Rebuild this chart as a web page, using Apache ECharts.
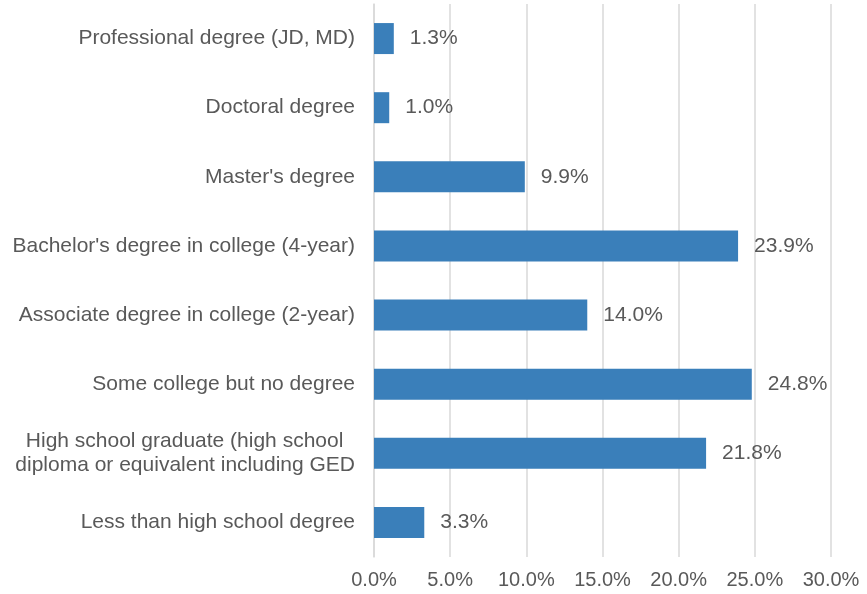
<!DOCTYPE html>
<html>
<head>
<meta charset="utf-8">
<script src="https://cdn.jsdelivr.net/npm/echarts@6/dist/echarts.min.js"></script>
<style>
  html, body { margin: 0; padding: 0; background: #fff; }
  #chart { width: 867px; height: 594px; }
</style>
</head>
<body>
<div id="chart"></div>
<script>
// categories top -> bottom
const categories = [
  'Professional degree (JD, MD)',
  'Doctoral degree',
  "Master's degree",
  "Bachelor's degree in college (4-year)",
  'Associate degree in college (2-year)',
  'Some college but no degree',
  'High school graduate (high school  \ndiploma or equivalent including GED',
  'Less than high school degree'
];
const shares = [1.3, 1.0, 9.9, 23.9, 14.0, 24.8, 21.8, 3.3];
const xTicks = [0, 5, 10, 15, 20, 25, 30];

const textColor = '#595959';
const gridColor = '#d9d9d9';
const font = '"Liberation Sans", Arial, sans-serif';

const chart = echarts.init(document.getElementById('chart'));
chart.setOption({
  animation: false,
  grid: { left: 374, right: 36, top: 4, bottom: 37 },
  xAxis: {
    type: 'value',
    min: xTicks[0],
    max: xTicks[xTicks.length - 1],
    interval: 5,
    axisLine: { show: false },
    axisTick: { show: false },
    splitLine: { lineStyle: { color: gridColor, width: 1.5 } },
    axisLabel: {
      color: textColor,
      fontSize: 20,
      fontFamily: font,
      margin: 13,
      formatter: (v) => v.toFixed(1) + '%'
    }
  },
  yAxis: {
    type: 'category',
    inverse: true,
    data: categories,
    axisLine: { show: true, lineStyle: { color: gridColor, width: 1.5 } },
    axisTick: { show: false },
    axisLabel: {
      color: textColor,
      fontSize: 21,
      fontFamily: font,
      margin: 19,
      lineHeight: 24
    }
  },
  series: [{
    type: 'bar',
    data: shares,
    barWidth: 31,
    itemStyle: { color: '#3a7fba' },
    label: {
      show: true,
      position: 'right',
      distance: 16,
      color: textColor,
      fontSize: 21,
      fontFamily: font,
      formatter: (p) => p.value.toFixed(1) + '%'
    }
  }]
});
</script>
</body>
</html>
